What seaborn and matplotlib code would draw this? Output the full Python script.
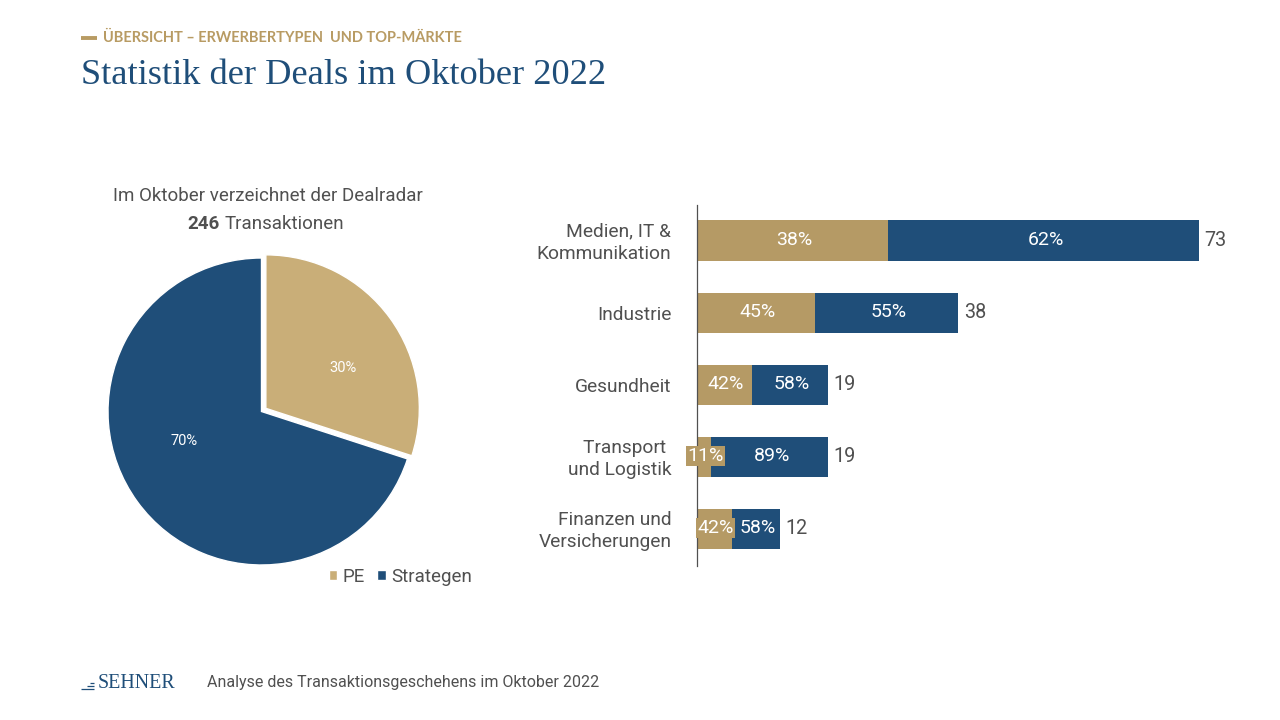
import numpy as np
import matplotlib
matplotlib.use('Agg')
import matplotlib.pyplot as plt
from matplotlib.lines import Line2D
from matplotlib.transforms import ScaledTranslation
import seaborn as sns

sns.set_theme(style='white')
plt.rcParams['font.family'] = ['Roboto', 'DejaVu Sans']

W, H = 1280, 720

# data
pie_labels = ['PE', 'Strategen']
pie_values = [30, 70]
categories = ['Medien, IT &\nKommunikation', 'Industrie', 'Gesundheit',
              'Transport \nund Logistik', 'Finanzen und\nVersicherungen']
deals = np.array([73, 38, 19, 19, 12])
pe_pct = np.array([38, 45, 42, 11, 42])
strat_pct = np.array([62, 55, 58, 89, 58])

BLUE = '#1F4E79'
TAN_PIE = '#C9AE78'
TAN_BAR = '#B59A65'
GOLD = '#B89B63'
GREY = '#505050'


def rect(left, top, right, bottom):
    return [left / W, 1 - bottom / H, (right - left) / W, (bottom - top) / H]


def fx(x):
    return x / W


def fy(y):
    return 1 - y / H


fig = plt.figure(figsize=(12.8, 7.2), dpi=100, facecolor='white')

# header
fig.add_artist(Line2D([fx(81), fx(97)], [fy(38), fy(38)], color=GOLD, lw=2.8, solid_capstyle='butt'))
fig.text(fx(103), fy(38), 'ÜBERSICHT – ERWERBERTYPEN  UND TOP-MÄRKTE', color=GOLD,
         family='Lato', weight='bold', fontsize=10.5, va='center')
fig.text(fx(81), fy(76), 'Statistik der Deals im Oktober 2022', color=BLUE,
         family='Liberation Serif', fontsize=26.2, va='center')

# pie
ax_pie = fig.add_axes(rect(81.5, 231.5, 441.5, 591.5))
wedges, _, autotexts = ax_pie.pie(pie_values, colors=[TAN_PIE, BLUE], startangle=90, counterclock=False,
                                  explode=[0.035, 0], radius=1, autopct='%d%%', pctdistance=0.6,
                                  textprops=dict(color='white', fontsize=10.5))
ax_pie.set_xlim(-180 / 153.5, 180 / 153.5)
ax_pie.set_ylim(-180 / 153.5, 180 / 153.5)
autotexts[0].set_position((0.53, 0.285))
autotexts[1].set_position((-0.505, -0.195))

fig.text(fx(267.5), fy(196), 'Im Oktober verzeichnet der Dealradar', color=GREY, fontsize=13.5,
         ha='center', va='center')
fig.text(fx(220), fy(224), '246', color=GREY, fontsize=13.5, weight='bold', ha='right', va='center')
fig.text(fx(224.5), fy(224), 'Transaktionen', color=GREY, fontsize=13.5, ha='left', va='center')

fig.legend(wedges, pie_labels, loc='center left', bbox_to_anchor=(fx(312), fy(577)), frameon=False,
           ncol=2, fontsize=13.5, labelcolor=GREY, handlelength=0.45, handleheight=0.45,
           handletextpad=0.3, columnspacing=0.65)

# bars
ax_bar = fig.add_axes(rect(697, 204.5, 1240, 565.5))
sns.barplot(x=deals, y=categories, color=BLUE, width=0.556, saturation=1, linewidth=0, ax=ax_bar)
pe_deals = deals * pe_pct / 100
sns.barplot(x=pe_deals, y=categories, color=TAN_BAR, width=0.556, saturation=1, linewidth=0, ax=ax_bar)
ax_bar.set_xlim(0, 543 / 6.877)
ax_bar.set_ylim(4.51, -0.5)

for i, total in enumerate(deals):
    ax_bar.text(pe_deals[i] / 2 + 0.2, i - 0.01, f'{pe_pct[i]}%', color='white', fontsize=14, ha='center', va='center',
                bbox=dict(facecolor=TAN_BAR, edgecolor='none', pad=1.0), clip_on=False, zorder=5)
    ax_bar.text((pe_deals[i] + total) / 2 + 0.3, i - 0.01, f'{strat_pct[i]}%', color='white', fontsize=14,
                ha='center', va='center', zorder=5)
    ax_bar.text(total + 0.8, i, str(total), color=GREY, fontsize=14.2, ha='left', va='center')

sns.despine(ax=ax_bar, top=True, right=True, bottom=True)
ax_bar.spines['left'].set_color(GREY)
ax_bar.spines['left'].set_linewidth(0.9)
ax_bar.set_xticks([])
ax_bar.set_xlabel('')
ax_bar.set_ylabel('')
ax_bar.tick_params(axis='y', length=0, pad=18.5, labelsize=13.8, labelcolor=GREY)
for label in ax_bar.get_yticklabels():
    if '\n' in label.get_text():
        label.set_linespacing(1.3)
        label.set_transform(label.get_transform() + ScaledTranslation(0, 1.5 / 72, fig.dpi_scale_trans))

# footer
for y, x0 in [(683, 90), (686, 87), (689, 81)]:
    fig.add_artist(Line2D([fx(x0), fx(94)], [fy(y), fy(y)], color=BLUE, lw=0.9, solid_capstyle='butt'))
fig.text(fx(98), fy(683), 'SEHNER', color=BLUE, family='Liberation Serif', fontsize=14.4, va='center')
fig.text(fx(207), fy(682), 'Analyse des Transaktionsgeschehens im Oktober 2022', color=GREY,
         fontsize=11.55, va='center')

fig.savefig('out.png', dpi=100)
